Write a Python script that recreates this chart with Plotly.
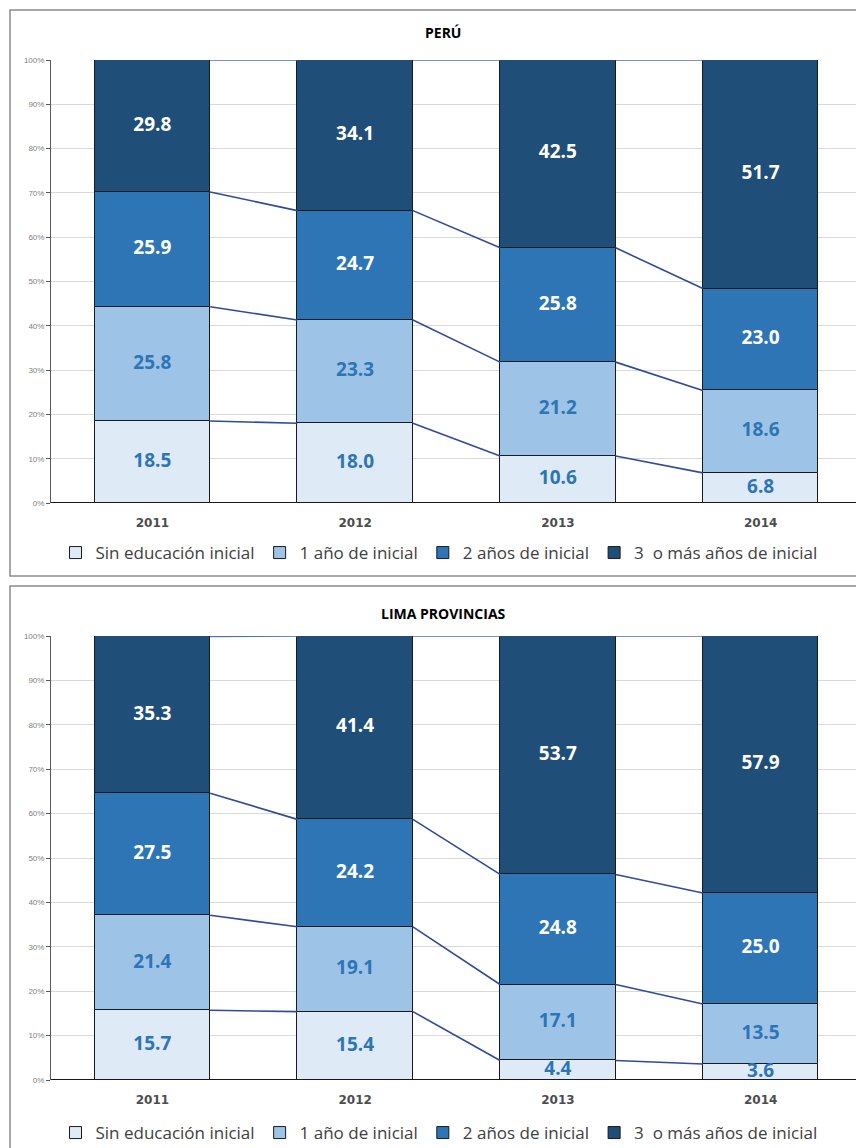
import plotly.graph_objects as go

years = ["2011", "2012", "2013", "2014"]
series_names = ["Sin educación inicial", "1 año de inicial", "2 años de inicial", "3  o más años de inicial"]
colors = ["#DEEAF6", "#9DC3E6", "#2E75B6", "#1F4E79"]
label_colors = ["#2E75B6", "#2E75B6", "#FFFFFF", "#FFFFFF"]

peru_sin = [18.5, 18.0, 10.6, 6.8]
peru_1 = [25.8, 23.3, 21.2, 18.6]
peru_2 = [25.9, 24.7, 25.8, 23.0]
peru_3 = [29.8, 34.1, 42.5, 51.7]

lima_sin = [15.7, 15.4, 4.4, 3.6]
lima_1 = [21.4, 19.1, 17.1, 13.5]
lima_2 = [27.5, 24.2, 24.8, 25.0]
lima_3 = [35.3, 41.4, 53.7, 57.9]

# page offset (body margin) compensation
OFF = 8
W, H = 864 - OFF, 1148 - OFF
BARW = 0.57
xs = list(range(len(years)))


def px_(p):
    return (p - OFF) / W


def py(p):
    return (H - (p - OFF)) / H


panels = [
    dict(title="PERÚ", data=[peru_sin, peru_1, peru_2, peru_3], top=60, bot=503,
         xa="x", ya="y", legend="legend", box=(10, 576), title_y=33, leg_y=553),
    dict(title="LIMA PROVINCIAS", data=[lima_sin, lima_1, lima_2, lima_3], top=636, bot=1080,
         xa="x2", ya="y2", legend="legend2", box=(586, 1170), title_y=613, leg_y=1133),
]

fig = go.Figure()

for pnl in panels:
    cum = [0.0] * len(years)
    for si, vals in enumerate(pnl["data"]):
        fig.add_trace(go.Bar(
            x=xs, y=vals, base=cum[:], width=BARW, name=series_names[si],
            marker=dict(color=colors[si], line=dict(color="#1a1a1a", width=1)),
            xaxis=pnl["xa"], yaxis=pnl["ya"], legend=pnl["legend"],
            hoverinfo="skip",
        ))
        mids = [c + v / 2 for c, v in zip(cum, vals)]
        fig.add_trace(go.Scatter(
            x=xs, y=mids, mode="text", text=[f"{v:.1f}" for v in vals],
            textfont=dict(family="Open Sans, Noto Sans, sans-serif", size=19, color=label_colors[si], weight="bold"),
            showlegend=False, cliponaxis=False, xaxis=pnl["xa"], yaxis=pnl["ya"], hoverinfo="skip",
        ))
        cum = [c + v for c, v in zip(cum, vals)]
        lx, ly = [], []
        for i in range(len(years) - 1):
            lx += [i + BARW / 2, i + 1 - BARW / 2, None]
            ly += [min(cum[i], 100), min(cum[i + 1], 100), None]
        fig.add_trace(go.Scatter(
            x=lx, y=ly, mode="lines", line=dict(color="#2F4B9A" if si < 3 else "#4A6FBF", width=1.6),
            showlegend=False, xaxis=pnl["xa"], yaxis=pnl["ya"], hoverinfo="skip", cliponaxis=False,
        ))

axis_common_x = dict(
    range=[-0.5, 3.5], tickvals=xs, ticktext=years, showgrid=False, zeroline=False,
    showline=False, ticks="", ticklabelstandoff=11,
    tickfont=dict(family="DejaVu Sans, sans-serif", size=12, color="#4D4D4D", weight="bold"),
)
axis_common_y = dict(
    range=[0, 100], dtick=10, ticksuffix="%", showgrid=True, gridcolor="#D9D9D9", gridwidth=1,
    zeroline=False, showline=True, linecolor="#595959", linewidth=1, ticks="outside",
    ticklen=4, tickcolor="#595959",
    tickfont=dict(family="Liberation Sans, sans-serif", size=8, color="#808080"),
)

xdom = [px_(51), px_(862)]
fig.update_layout(
    xaxis=dict(domain=xdom, anchor="y", **axis_common_x),
    yaxis=dict(domain=[py(503), py(60)], anchor="x", **axis_common_y),
    xaxis2=dict(domain=xdom, anchor="y2", **axis_common_x),
    yaxis2=dict(domain=[py(1080), py(636)], anchor="x2", **axis_common_y),
)

shapes = []
annotations = []
legend_common = dict(
    orientation="h", xanchor="center", yanchor="middle", x=px_(439),
    font=dict(family="Open Sans, sans-serif", size=17, color="#404040"),
    itemwidth=30, tracegroupgap=0, bgcolor="rgba(0,0,0,0)", traceorder="normal",
)
for k, pnl in enumerate(panels):
    y0, y1 = pnl["box"]
    shapes.append(dict(type="rect", xref="paper", yref="paper", x0=px_(10), x1=1.05,
                       y0=py(y1), y1=py(y0), line=dict(color="#8C8C8C", width=1.5), layer="below"))
    xa = "x" if k == 0 else "x2"
    ya = "y" if k == 0 else "y2"
    shapes.append(dict(type="line", xref=f"{xa} domain", yref=ya, x0=0, x1=1, y0=0, y1=0,
                       line=dict(color="#1a1a1a", width=2)))
    annotations.append(dict(text=f"<b>{pnl['title']}</b>", xref="paper", yref="paper",
                            x=px_(443), y=py(pnl["title_y"]), showarrow=False,
                            xanchor="center", yanchor="middle",
                            font=dict(family="Open Sans, sans-serif", size=14, color="#000000")))

fig.update_layout(
    width=W, height=H, margin=dict(l=0, r=0, t=0, b=0, autoexpand=False),
    paper_bgcolor="white", plot_bgcolor="white",
    barmode="overlay", bargap=0,
    shapes=shapes, annotations=annotations,
    legend=dict(y=py(panels[0]["leg_y"]), **legend_common),
    legend2=dict(y=py(panels[1]["leg_y"]), **legend_common),
    showlegend=True,
)

fig.write_html("out.html")
